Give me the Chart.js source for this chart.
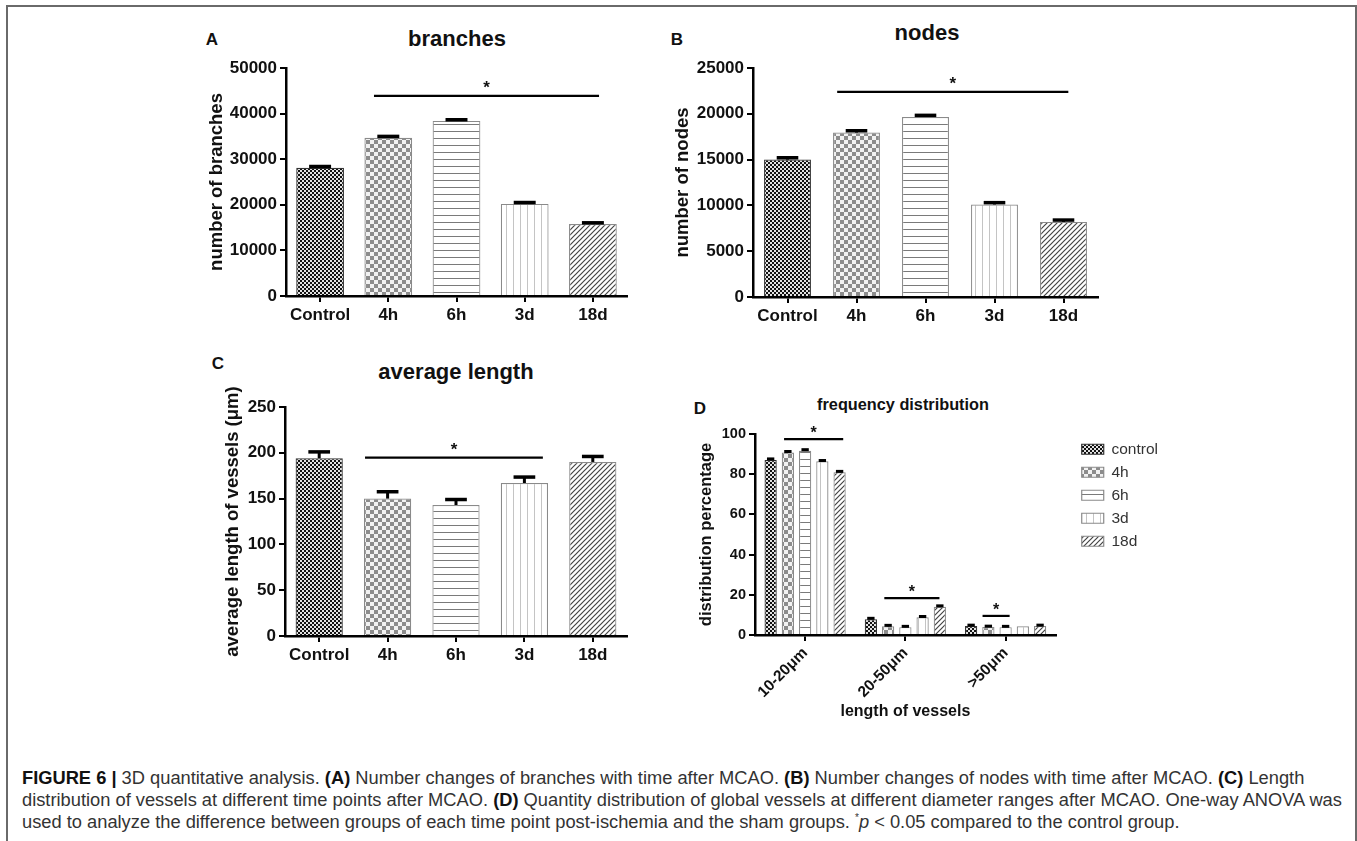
<!DOCTYPE html>
<html>
<head>
<meta charset="utf-8">
<script src="https://cdn.jsdelivr.net/npm/chart.js@4.4.0/dist/chart.umd.min.js"></script>
<style>
  body { margin: 0; background: #fff; width: 1357px; height: 841px; overflow: hidden; position: relative;
         font-family: "Liberation Sans", Arial, sans-serif; }
  .frame { position: absolute; left: 6px; top: 5px; width: 1347px; height: 900px; border: 2px solid #6a6a6a; }
  .panel { position: absolute; }
  .lbl { position: absolute; transform: translate(-50%, -50%); font-weight: bold; color: #111;
         white-space: nowrap; line-height: 1; }
  .caption { position: absolute; left: 22px; top: 767px; font-family: "Liberation Sans Narrow", "Liberation Sans", sans-serif;
             font-size: 18.3px; line-height: 22px; color: #333; white-space: nowrap; }
  .caption b { color: #111; }
  .caption sup { font-size: 10px; line-height: 0; }
</style>
</head>
<body>
<div class="frame"></div>

<div class="lbl" style="left:212px; top:39px; font-size:17px;">A</div>
<div class="lbl" style="left:457px; top:39px; font-size:22px;">branches</div>
<div class="lbl" style="left:677px; top:39px; font-size:17px;">B</div>
<div class="lbl" style="left:927px; top:33px; font-size:22px;">nodes</div>
<div class="lbl" style="left:218px; top:363px; font-size:17px;">C</div>
<div class="lbl" style="left:456px; top:372px; font-size:22px;">average length</div>
<div class="lbl" style="left:700px; top:408px; font-size:17px;">D</div>
<div class="lbl" style="left:903px; top:404px; font-size:16.3px;">frequency distribution</div>

<div class="panel" style="left:150px; top:20px; width:490px; height:320px;"><canvas id="chartA"></canvas></div>
<div class="panel" style="left:640px; top:20px; width:470px; height:320px;"><canvas id="chartB"></canvas></div>
<div class="panel" style="left:150px; top:330px; width:490px; height:340px;"><canvas id="chartC"></canvas></div>
<div class="panel" style="left:660px; top:390px; width:508px; height:335px;"><canvas id="chartD"></canvas></div>

<div class="caption">
<b>FIGURE 6 |</b> 3D quantitative analysis. <b>(A)</b> Number changes of branches with time after MCAO. <b>(B)</b> Number changes of nodes with time after MCAO. <b>(C)</b> Length<br>
distribution of vessels at different time points after MCAO. <b>(D)</b> Quantity distribution of global vessels at different diameter ranges after MCAO. One-way ANOVA was<br>
used to analyze the difference between groups of each time point post-ischemia and the sham groups. <sup>*</sup><i>p</i> &lt; 0.05 compared to the control group.
</div>

<script>
const groups = ['Control', '4h', '6h', '3d', '18d'];

const branches = [28100, 34700, 38400, 20200, 15800];
const branchesErr = [300, 300, 250, 300, 250];
const branchesTicks = [0, 10000, 20000, 30000, 40000, 50000];

const nodes = [15000, 17950, 19650, 10100, 8200];
const nodesErr = [200, 200, 180, 200, 200];
const nodesTicks = [0, 5000, 10000, 15000, 20000, 25000];

const avgLength = [194, 150, 143, 167, 190];
const avgLengthErr = [7, 7.5, 6, 6.5, 6];
const avgLengthTicks = [0, 50, 100, 150, 200, 250];

const lengthBins = ['10-20μm', '20-50μm', '>50μm'];
const seriesNames = ['control', '4h', '6h', '3d', '18d'];
const freqControl = [87.1, 7.8, 4.5];
const freq4h = [90.8, 4.3, 4.0];
const freq6h = [91.7, 3.9, 3.9];
const freq3d = [86.4, 8.8, 4.3];
const freq18d = [81.0, 14.0, 4.5];
const freqErr = [[0.5, 0.5, 0.4], [0.5, 0.5, 0.4], [0.5, 0.4, 0.4], [0.4, 0.4, 0], [0.4, 0.5, 0.4]];
const freqTicks = [0, 20, 40, 60, 80, 100];

// significance bars: value on y axis, span in category units
const sigA = [{ value: 43900, from: 0.79, to: 4.09 }];
const sigB = [{ value: 22400, from: 0.72, to: 4.07 }];
const sigC = [{ value: 194.7, from: 0.67, to: 3.27 }];
const sigD = [{ value: 97.5, from: -0.21, to: 0.38 }, { value: 18.3, from: 0.79, to: 1.34 }, { value: 9.5, from: 1.77, to: 2.04 }];

const FONT = '"Liberation Sans", Arial, sans-serif';

function makePattern(kind) {
    const c = document.createElement('canvas');
    const g = c.getContext('2d');
    if (kind === 'control') {
        c.width = c.height = 4;
        g.fillStyle = '#111'; g.fillRect(0, 0, 4, 4);
        g.fillStyle = '#e2e2e2'; g.fillRect(0, 0, 2, 2); g.fillRect(2, 2, 2, 2);
    } else if (kind === '4h') {
        c.width = c.height = 8;
        g.fillStyle = '#f2f2f2'; g.fillRect(0, 0, 8, 8);
        g.fillStyle = '#8c8c8c'; g.fillRect(0, 0, 4, 4); g.fillRect(4, 4, 4, 4);
    } else if (kind === '6h') {
        c.width = 7; c.height = 7;
        g.fillStyle = '#fff'; g.fillRect(0, 0, 7, 7);
        g.fillStyle = '#7a7a7a'; g.fillRect(0, 6, 7, 1);
    } else if (kind === '3d') {
        c.width = 7; c.height = 7;
        g.fillStyle = '#fff'; g.fillRect(0, 0, 7, 7);
        g.fillStyle = '#c4c4c4'; g.fillRect(6, 0, 1, 7);
    } else {
        c.width = c.height = 5;
        g.fillStyle = '#fff'; g.fillRect(0, 0, 5, 5);
        g.strokeStyle = '#444'; g.lineWidth = 1.2;
        g.beginPath();
        g.moveTo(0, 5); g.lineTo(5, 0);
        g.moveTo(-1, 1); g.lineTo(1, -1);
        g.moveTo(4, 6); g.lineTo(6, 4);
        g.stroke();
    }
    return g.createPattern(c, 'repeat');
}

const patterns = seriesNames.map(makePattern);
const borders = ['#333', '#8a8a8a', '#8a8a8a', '#8a8a8a', '#8a8a8a'];

// error bars and significance lines
const annotations = {
    id: 'annotations',
    afterDatasetsDraw(chart, args, opts) {
        const { ctx } = chart;
        const xs = chart.scales.x;
        const ys = chart.scales.y;
        ctx.save();
        ctx.strokeStyle = '#000';
        ctx.lineCap = 'butt';
        (opts.errors || []).forEach((errs, di) => {
            const meta = chart.getDatasetMeta(di);
            const vals = chart.data.datasets[di].data;
            meta.data.forEach((bar, i) => {
                const e = errs[i];
                if (!e) return;
                const yTop = ys.getPixelForValue(vals[i] + e);
                const half = bar.width * opts.capRatio / 2;
                ctx.lineWidth = opts.stemWidth;
                ctx.beginPath();
                ctx.moveTo(bar.x, bar.y);
                ctx.lineTo(bar.x, yTop);
                ctx.stroke();
                ctx.lineWidth = opts.capWidth;
                ctx.beginPath();
                ctx.moveTo(bar.x - half, yTop);
                ctx.lineTo(bar.x + half, yTop);
                ctx.stroke();
            });
        });
        (opts.sig || []).forEach((s) => {
            const y = ys.getPixelForValue(s.value);
            const x1 = xs.getPixelForValue(s.from);
            const x2 = xs.getPixelForValue(s.to);
            ctx.lineWidth = 2.2;
            ctx.beginPath();
            ctx.moveTo(x1, y);
            ctx.lineTo(x2, y);
            ctx.stroke();
            ctx.fillStyle = '#111';
            ctx.font = `bold ${opts.starSize}px ${FONT}`;
            ctx.textAlign = 'center';
            ctx.textBaseline = 'alphabetic';
            ctx.fillText('*', (x1 + x2) / 2, y - opts.starGap);
        });
        ctx.restore();
    },
};

function axisX(size, height, extra) {
    return Object.assign({
        type: 'category',
        offset: true,
        grid: { display: true, drawOnChartArea: false, drawTicks: true, offset: false, color: '#000', lineWidth: 2, tickLength: 6 },
        border: { display: true, color: '#000', width: 2.5 },
        ticks: { color: '#111', padding: 3, font: { family: FONT, size, weight: 'bold' }, maxRotation: 0, autoSkip: false },
        afterFit(scale) { scale.height = height; },
    }, extra || {});
}

function axisY(ticks, title, titleSize, tickSize, width) {
    return {
        type: 'linear',
        min: ticks[0],
        max: ticks[ticks.length - 1],
        afterBuildTicks(scale) { scale.ticks = ticks.map((v) => ({ value: v })); },
        grid: { display: true, drawOnChartArea: false, drawTicks: true, color: '#000', lineWidth: 2, tickLength: 6 },
        border: { display: true, color: '#000', width: 2.5 },
        ticks: {
            color: '#111',
            padding: 3,
            font: { family: FONT, size: tickSize, weight: 'bold' },
            callback: (v) => String(v),
        },
        title: { display: true, text: title, color: '#111', padding: { top: 4, bottom: 4 }, font: { family: FONT, size: titleSize, weight: 'bold' } },
        afterFit(scale) { scale.width = width; },
    };
}

function simpleBarChart(id, values, errs, ticks, title, sig, box, barPct) {
    return new Chart(document.getElementById(id), {
        type: 'bar',
        data: {
            labels: groups,
            datasets: [{
                data: values,
                backgroundColor: patterns,
                borderColor: borders,
                borderWidth: 1.2,
                categoryPercentage: 1,
                barPercentage: barPct,
            }],
        },
        options: {
            responsive: true,
            maintainAspectRatio: false,
            animation: false,
            layout: { padding: { left: box.left, top: box.top, right: box.right, bottom: 0 } },
            plugins: {
                legend: { display: false },
                tooltip: { enabled: false },
                annotations: { errors: [errs], sig, capRatio: 0.46, stemWidth: 3, capWidth: 3.5, starSize: 17, starGap: 3 },
            },
            scales: {
                x: axisX(17, box.xHeight),
                y: axisY(ticks, title, 18.5, 17, box.yWidth),
            },
        },
        plugins: [annotations],
    });
}

simpleBarChart('chartA', branches, branchesErr, branchesTicks, 'number of branches', sigA,
    { left: 52, top: 48, right: 13, yWidth: 84, xHeight: 44 }, 0.7);
simpleBarChart('chartB', nodes, nodesErr, nodesTicks, 'number of nodes', sigB,
    { left: 28, top: 48, right: 12, yWidth: 85, xHeight: 43 }, 0.68);
simpleBarChart('chartC', avgLength, avgLengthErr, avgLengthTicks, 'average length of vessels (μm)', sigC,
    { left: 68, top: 77, right: 13, yWidth: 67, xHeight: 34 }, 0.69);

const freqSeries = [freqControl, freq4h, freq6h, freq3d, freq18d];

new Chart(document.getElementById('chartD'), {
    type: 'bar',
    data: {
        labels: lengthBins,
        datasets: freqSeries.map((vals, i) => ({
            label: seriesNames[i],
            data: vals,
            yAxisID: 'y',
            backgroundColor: patterns[i],
            borderColor: borders[i],
            borderWidth: 1.2,
            categoryPercentage: 0.86,
            barPercentage: 0.71,
        })),
    },
    options: {
        responsive: true,
        maintainAspectRatio: false,
        animation: false,
        layout: { padding: { left: 33, top: 44, right: 0, bottom: 0 } },
        plugins: {
            legend: {
                display: true,
                position: 'right',
                align: 'start',
                maxWidth: 120,
                labels: { boxWidth: 22, boxHeight: 10, padding: 7.5, color: '#333', font: { family: FONT, size: 15.5 } },
            },
            tooltip: { enabled: false },
            annotations: { errors: freqErr, sig: sigD, capRatio: 0.6, stemWidth: 2, capWidth: 3, starSize: 16, starGap: 1 },
        },
        scales: {
            x: axisX(16, 90, {
                ticks: { color: '#111', padding: 3, font: { family: FONT, size: 15.5, weight: 'bold' }, minRotation: 45, maxRotation: 45, autoSkip: false },
                title: { display: true, text: 'length of vessels', color: '#111', padding: { top: 0, bottom: 4 }, font: { family: FONT, size: 16, weight: 'bold' } },
            }),
            y: axisY(freqTicks, 'distribution percentage', 16.5, 14.5, 62),
            gap: {
                type: 'linear',
                position: 'right',
                display: true,
                grid: { display: false },
                border: { display: false },
                ticks: { display: false },
                afterFit(scale) { scale.width = 18.5; },
            },
        },
    },
    plugins: [annotations],
});
</script>
</body>
</html>
